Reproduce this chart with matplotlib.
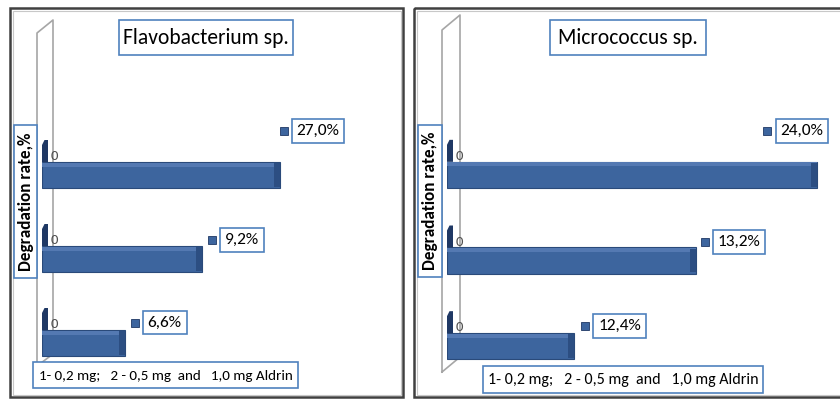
import matplotlib
matplotlib.use('Agg')
import matplotlib.pyplot as plt
from matplotlib.patches import Rectangle, Polygon
from matplotlib.transforms import offset_copy

plt.rcParams['font.family'] = ['Carlito', 'Lato', 'DejaVu Sans']

# ---------------- data ----------------
categories = [1, 2, 3]
flavo_bar = [1, 2, 3]
flavo_labels = ['6,6%', '9,2%', '27,0%']
micro_bar = [1, 2, 3]
micro_labels = ['12,4%', '13,2%', '24,0%']
zero_series = [0, 0, 0]
titles = ['Flavobacterium sp.', 'Micrococcus sp.']
ylabel_text = 'Degradation rate,%'
xlabel_text = '1- 0,2 mg;   2 - 0,5 mg  and   1,0 mg Aldrin'

# ---------------- layout (pixels) ----------------
W, H = 840, 400
fig = plt.figure(figsize=(8.4, 4), dpi=100)
bg = fig.add_axes([0, 0, 1, 1])
bg.set_xlim(0, W)
bg.set_ylim(H, 0)
bg.axis('off')

BOX_EDGE = '#4f81bd'
BAR = '#3d659e'
BAR_EDGE = '#2a4a7a'
BAR_TOP = '#5479b2'
BAR_CAP = '#2c4e82'
STUB = '#1f3864'

panels = [
    dict(frame=(10, 8, 403, 397), wall=(37, 53, 33, 20, 366, 354),
         title_box=(119, 20, 293, 55), title_fs=15.5,
         ylab_box=(14, 125, 37, 278), xlab_box=(33, 362, 298, 388), xlab_fs=10.9,
         ax_px=(42, 133, 395, 385), xlim=(-0.068, 4.49),
         bars=flavo_bar, labels=flavo_labels, title=titles[0],
         lab_dx=[18, 17.5, 12], lab_dy=[7.5, 6, 31]),
    dict(frame=(414, 8, 843, 397), wall=(442, 460, 30, 15, 372, 357),
         title_box=(550, 20, 706, 55), title_fs=15.5,
         ylab_box=(418, 125, 442, 277), xlab_box=(483, 366, 763, 393), xlab_fs=11.5,
         ax_px=(447, 132, 832, 389), xlim=(-0.047, 3.12),
         bars=micro_bar, labels=micro_labels, title=titles[1],
         lab_dx=[19, 17, -42], lab_dy=[7, 5.5, 30.5]),
]

for p in panels:
    # frame
    x0, y0, x1, y1 = p['frame']
    bg.add_patch(Rectangle((x0, y0), x1 - x0, y1 - y0, fill=False,
                           edgecolor='#404040', lw=1.8, zorder=1))
    bg.add_patch(Rectangle((x0 + 2.5, y0 + 2.5), x1 - x0 - 5, y1 - y0 - 5, fill=False,
                           edgecolor='#c8c8c8', lw=0.8, zorder=1))
    # 3D wall
    xf, xb, tf, tb, bf, bb = p['wall']
    bg.plot([xf, xf, xb, xb, xf], [bf, tf, tb, bb, bf], color='#a6a6a6', lw=1.2, zorder=1)
    # title
    tx0, ty0, tx1, ty1 = p['title_box']
    bg.add_patch(Rectangle((tx0, ty0), tx1 - tx0, ty1 - ty0, facecolor='white',
                           edgecolor=BOX_EDGE, lw=1.2, zorder=2))
    bg.text((tx0 + tx1) / 2, (ty0 + ty1) / 2 + 1, p['title'], ha='center', va='center',
            fontsize=p['title_fs'], color='black', zorder=3)
    # y label
    lx0, ly0, lx1, ly1 = p['ylab_box']
    bg.add_patch(Rectangle((lx0, ly0), lx1 - lx0, ly1 - ly0, facecolor='white',
                           edgecolor=BOX_EDGE, lw=1.2, zorder=2))
    bg.text((lx0 + lx1) / 2 + 0.5, (ly0 + ly1) / 2, ylabel_text, ha='center', va='center',
            rotation=90, fontsize=12.3, fontweight='bold', color='black', zorder=3)
    # x label
    bx0, by0, bx1, by1 = p['xlab_box']
    bg.add_patch(Rectangle((bx0, by0), bx1 - bx0, by1 - by0, facecolor='white',
                           edgecolor=BOX_EDGE, lw=1.2, zorder=2))
    bg.text((bx0 + bx1) / 2, (by0 + by1) / 2 + 0.5, xlabel_text, ha='center', va='center',
            fontsize=p['xlab_fs'], color='black', zorder=3)

    # bar axes
    l, t, r, b = p['ax_px']
    ax = fig.add_axes([l / W, 1 - b / H, (r - l) / W, (b - t) / H])
    ax.set_xlim(*p['xlim'])
    ax.set_ylim(0.5, 3.5)
    ax.axis('off')
    xmin = p['xlim'][0]
    sx = (r - l) / (p['xlim'][1] - xmin)   # px per x unit
    sy = (b - t) / 3.0                      # px per y unit
    bh = 26 / sy
    vals = p['bars']
    # bars (3D base portion behind the zero line included)
    ax.barh(categories, [v - xmin for v in vals], left=xmin, height=bh, color=BAR,
            edgecolor=BAR_EDGE, lw=0.8, zorder=3)
    # top face (lighter strip)
    ax.barh([c + bh / 2 - 2.5 / sy for c in categories], [v - xmin for v in vals],
            left=xmin, height=4 / sy, color=BAR_TOP, lw=0, zorder=4)
    # right end cap (darker)
    cap = 6 / sx
    ax.barh(categories, [cap] * 3, left=[v - cap for v in vals], height=bh * 0.92,
            color=BAR_CAP, lw=0, zorder=4)
    # zero series stubs and labels
    for c, z in zip(categories, zero_series):
        top = c + bh / 2
        poly = [(xmin, top), (xmin, top + 17 / sy), (xmin + 2.5 / sx, top + 22 / sy),
                (xmin + 6 / sx, top + 22 / sy), (xmin + 6 / sx, top)]
        ax.add_patch(Polygon(poly, closed=True, facecolor=STUB, edgecolor='none', zorder=5))
        ax.annotate(str(z), xy=(z, top), xytext=(3, 0), textcoords='offset pixels',
                    ha='left', va='bottom', fontsize=10.5, color='#505050', zorder=6)
    # value labels with legend keys
    for c, v, lab, dx, dy in zip(categories, vals, p['labels'], p['lab_dx'], p['lab_dy']):
        top = c + bh / 2
        ax.annotate(lab, xy=(v, top), xytext=(dx + 5, dy), textcoords='offset pixels',
                    ha='left', va='center', fontsize=12.5, color='black', zorder=7,
                    annotation_clip=False,
                    bbox=dict(boxstyle='square,pad=0.28', facecolor='white',
                              edgecolor=BOX_EDGE, lw=1.2))
        tr = offset_copy(ax.transData, fig=fig, x=dx - 8, y=dy, units='dots')
        ax.plot([v], [top], marker='s', ms=5.4, color=BAR, mec=STUB, mew=0.6,
                transform=tr, clip_on=False, zorder=7)

fig.savefig('out.png', dpi=100, facecolor='white')
